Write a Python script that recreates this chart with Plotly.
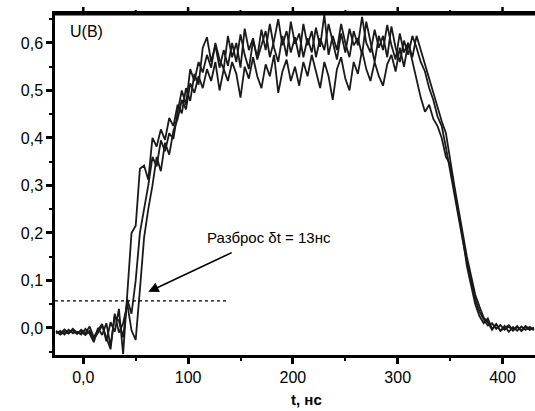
import plotly.graph_objects as go

# time grid (ns)
t = list(range(-26, 431, 4))

curve_a = [
    -0.008, -0.012, -0.003, -0.010, -0.005, -0.013, -0.004, -0.011, 0.003, -0.020,
    -0.004, 0.008, -0.028, 0.012, -0.008, 0.040, -0.055, 0.070, 0.200, 0.215,
    0.335, 0.342, 0.312, 0.400, 0.382, 0.418, 0.396, 0.442, 0.425, 0.470,
    0.452, 0.505, 0.478, 0.535, 0.512, 0.590, 0.612, 0.560, 0.595, 0.548,
    0.585, 0.552, 0.600, 0.560, 0.618, 0.575, 0.545, 0.605, 0.570, 0.628,
    0.585, 0.640, 0.590, 0.560, 0.615, 0.572, 0.645, 0.598, 0.620, 0.570,
    0.610, 0.580, 0.632, 0.592, 0.660, 0.575, 0.615, 0.585, 0.640, 0.600,
    0.570, 0.625, 0.595, 0.655, 0.600, 0.580, 0.628, 0.590, 0.615, 0.570,
    0.635, 0.590, 0.560, 0.605, 0.575, 0.615, 0.590, 0.560, 0.540, 0.505,
    0.480, 0.445, 0.425, 0.380, 0.330, 0.280, 0.235, 0.185, 0.140, 0.100,
    0.060, 0.035, 0.018, 0.005, 0.010, -0.002, 0.006, -0.004, 0.003, -0.006,
    0.002, -0.005, 0.004, -0.003, -0.001,
]

curve_b = [
    -0.012, -0.006, -0.014, -0.004, -0.011, -0.008, -0.014, -0.002, -0.012, -0.030,
    0.000, -0.015, 0.010, -0.038, 0.025, 0.015, -0.020, 0.060, 0.030, 0.100,
    0.200, 0.250, 0.300, 0.360, 0.340, 0.395, 0.372, 0.410, 0.398, 0.455,
    0.500, 0.470, 0.545, 0.520, 0.560, 0.538, 0.575, 0.548, 0.600, 0.565,
    0.545, 0.615, 0.570, 0.600, 0.548, 0.630, 0.585, 0.610, 0.565, 0.595,
    0.625, 0.570, 0.605, 0.650, 0.595, 0.625, 0.580, 0.612, 0.570, 0.640,
    0.595, 0.625, 0.570, 0.610, 0.585, 0.640, 0.600, 0.565, 0.620, 0.580,
    0.630, 0.595, 0.610, 0.575, 0.645, 0.600, 0.560, 0.615, 0.585, 0.638,
    0.595, 0.565, 0.620, 0.580, 0.600, 0.570, 0.615, 0.585, 0.555, 0.520,
    0.490, 0.465, 0.435, 0.410, 0.350, 0.300, 0.250, 0.200, 0.150, 0.110,
    0.070, 0.045, 0.022, 0.012, -0.004, 0.008, -0.006, 0.004, -0.008, 0.002,
    -0.006, 0.003, -0.004, 0.002, -0.005,
]

curve_c = [
    -0.006, -0.014, -0.008, -0.012, -0.002, -0.010, -0.008, -0.015, -0.006, -0.024,
    -0.010, 0.005, -0.020, -0.045, 0.030, -0.010, 0.010, 0.050, -0.005, -0.025,
    0.080, 0.190, 0.250, 0.300, 0.360, 0.330, 0.390, 0.365, 0.415, 0.440,
    0.480, 0.460, 0.515, 0.495, 0.530, 0.505, 0.545, 0.520, 0.560, 0.500,
    0.545, 0.520, 0.560, 0.535, 0.485, 0.550, 0.525, 0.570, 0.530, 0.505,
    0.555, 0.530, 0.575, 0.495, 0.540, 0.565, 0.520, 0.550, 0.510, 0.560,
    0.530, 0.575, 0.540, 0.505, 0.560, 0.530, 0.480, 0.545, 0.570, 0.525,
    0.500, 0.560, 0.535, 0.585, 0.545, 0.520, 0.560, 0.530, 0.510, 0.555,
    0.575, 0.540, 0.590, 0.550, 0.600, 0.560, 0.520, 0.485, 0.455, 0.470,
    0.440, 0.425, 0.400, 0.360, 0.345, 0.290, 0.240, 0.190, 0.130, 0.090,
    0.050, 0.025, 0.010, 0.020, -0.002, 0.008, -0.006, 0.000, 0.006, -0.004,
    0.004, -0.007, 0.002, -0.004, 0.001,
]

x_tickvals = [0, 100, 200, 300, 400]
x_ticktext = ["0,0", "100", "200", "300", "400"]
x_minor = [-50, 50, 150, 250, 350]
y_tickvals = [0.0, 0.1, 0.2, 0.3, 0.4, 0.5, 0.6]
y_ticktext = ["0,0", "0,1", "0,2", "0,3", "0,4", "0,5", "0,6"]
y_minor = [-0.05, 0.05, 0.15, 0.25, 0.35, 0.45, 0.55, 0.65]

threshold = 0.057
threshold_end = 138
arrow_head = (62, 0.076)
arrow_tail = (143, 0.16)

FONT = "Liberation Sans, Arial, sans-serif"
LINE = "#1a1a1a"
X_RANGE = [-27, 431]
Y_RANGE = [-0.057, 0.661]

fig = go.Figure()
for ys in (curve_a, curve_b, curve_c):
    fig.add_trace(go.Scatter(x=t, y=ys, mode="lines",
                             line=dict(color=LINE, width=1.8),
                             showlegend=False, hoverinfo="skip"))

fig.add_shape(type="line", xref="x", yref="y",
              x0=X_RANGE[0], x1=threshold_end, y0=threshold, y1=threshold,
              line=dict(color="black", width=1.4, dash="3px,3px"))

# top frame line with outward ticks (mirrors the bottom axis ticks)
fig.add_shape(type="line", xref="paper", yref="paper", ysizemode="pixel", yanchor=1,
              x0=0, x1=1, y0=0, y1=0,
              line=dict(color="black", width=3), layer="above")
for xv in x_tickvals:
    fig.add_shape(type="line", xref="x", yref="paper", ysizemode="pixel", yanchor=1,
                  x0=xv, x1=xv, y0=0, y1=7, line=dict(color="black", width=2.5),
                  layer="above")
for xv in x_minor:
    if X_RANGE[0] < xv < X_RANGE[1]:
        fig.add_shape(type="line", xref="x", yref="paper", ysizemode="pixel", yanchor=1,
                      x0=xv, x1=xv, y0=0, y1=4, line=dict(color="black", width=2),
                      layer="above")

fig.add_annotation(x=arrow_head[0], y=arrow_head[1], ax=arrow_tail[0], ay=arrow_tail[1],
                   xref="x", yref="y", axref="x", ayref="y", text="",
                   showarrow=True, arrowhead=2, arrowsize=1.3, arrowwidth=1.6,
                   arrowcolor="black")
fig.add_annotation(x=116, y=0.19, xref="x", yref="y", xanchor="left", yanchor="middle",
                   text="Разброс δt = 13нс", showarrow=False,
                   font=dict(family=FONT, size=15, color="black"))
fig.add_annotation(x=-14.5, y=0.625, xref="x", yref="y", xanchor="left", yanchor="middle",
                   text="U(B)", showarrow=False,
                   font=dict(family=FONT, size=16, color="black"))
fig.add_annotation(x=213, y=-0.13, xref="x", yref="paper", xanchor="center", yanchor="middle",
                   text="<b>t, нс</b>", showarrow=False,
                   font=dict(family=FONT, size=15, color="black"))

fig.update_layout(
    xaxis=dict(range=X_RANGE, showgrid=False, zeroline=False,
               showline=True, linecolor="black", linewidth=2.5, mirror=True,
               ticks="outside", ticklen=6, tickwidth=2.5, tickcolor="black",
               tickvals=x_tickvals, ticktext=x_ticktext,
               tickfont=dict(family=FONT, size=16, color="black"),
               minor=dict(tickvals=x_minor, ticks="outside",
                          ticklen=3, tickwidth=2, tickcolor="black")),
    yaxis=dict(range=Y_RANGE, showgrid=False, zeroline=False,
               showline=True, linecolor="black", linewidth=2.5,
               ticks="outside", ticklen=6, tickwidth=2.5, tickcolor="black",
               tickvals=y_tickvals, ticktext=y_ticktext,
               tickfont=dict(family=FONT, size=16, color="black"),
               minor=dict(tickvals=y_minor, ticks="outside",
                          ticklen=3, tickwidth=2, tickcolor="black")),
    width=535, height=411,
    margin=dict(l=55, r=0, t=14, b=56),
    paper_bgcolor="white", plot_bgcolor="white",
)

fig.write_html("out.html", config={"displayModeBar": False},
               post_script="document.body.style.margin='0px';document.body.style.overflow='hidden';")
